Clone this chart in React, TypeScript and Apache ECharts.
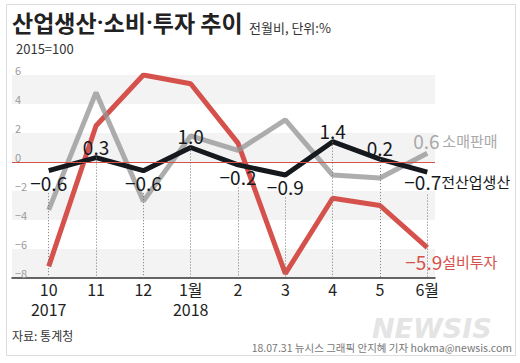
import React, { useEffect, useRef } from 'react';
import * as echarts from 'echarts';

const months = ['10', '11', '12', '1월', '2', '3', '4', '5', '6월'];
const years = ['2017', '', '', '2018', '', '', '', '', ''];
const industry = [-0.6, 0.3, -0.6, 1.0, -0.2, -0.9, 1.4, 0.2, -0.7];
const retail = [-3.3, 4.8, -2.7, 1.8, 0.8, 2.9, -0.9, -1.1, 0.6];
const investment = [-7.2, 2.5, 6.0, 5.4, 1.3, -7.7, -2.5, -3.0, -5.9];
const industryLabelPos = ['bottom', 'top', 'bottom', 'top', 'bottom', 'bottom', 'top', 'top', 'bottom'];
const yMin = -8;
const yMax = 6;
const yInterval = 2;

const FF = '"Noto Sans CJK KR", "Noto Sans", sans-serif';
const RED = '#d5524c';
const GRAY_TXT = '#a9a9a9';
const BLACK = '#15191d';

const fmt = (v: number) => (v < 0 ? '−' : '') + Math.abs(v).toFixed(1);

export default function App() {
  const ref = useRef<HTMLDivElement>(null);
  useEffect(() => {
    if (!ref.current) return;
    const chart = echarts.init(ref.current, undefined, { renderer: 'svg' });
    const last = months.length - 1;

    const dotted = industry.map((v, i) => {
      const start = industryLabelPos[i] === 'bottom' ? v - 1.55 : v;
      return [{ coord: [i, start] }, { coord: [i, yMin] }];
    });

    const hidden = { show: false };
    const sym = { symbol: 'circle', symbolSize: 0.01, showSymbol: true, showAllSymbol: true };
    const xMin = -0.776;
    const xMax = 8.163;

    const option: any = {
      animation: false,
      backgroundColor: '#fff',
      textStyle: { fontFamily: FF },
      grid: { left: 12, right: 85, top: 75, bottom: 85, containLabel: false },
      xAxis: [
        {
          type: 'value',
          min: xMin,
          max: xMax,
          axisLine: { show: true, onZero: false, lineStyle: { color: '#333', width: 1.5 } },
          axisTick: { show: false },
          splitLine: { show: false },
          axisLabel: {
            customValues: months.map((_, i) => i),
            formatter: (v: number) => months[Math.round(v)],
            color: '#222',
            fontSize: 16,
            lineHeight: 16,
            margin: 3,
            fontFamily: FF,
          },
        },
        {
          type: 'value',
          position: 'bottom',
          min: xMin,
          max: xMax,
          axisLine: { show: false, onZero: false },
          axisTick: { show: false },
          splitLine: { show: false },
          axisLabel: {
            customValues: years.map((y, i) => (y ? i : -1)).filter((i) => i >= 0),
            formatter: (v: number) => years[Math.round(v)],
            color: '#222',
            fontSize: 16,
            lineHeight: 16,
            margin: 23,
            fontFamily: FF,
          },
        },
      ],
      yAxis: {
        type: 'value',
        min: yMin,
        max: yMax,
        interval: yInterval,
        axisLine: { show: false, onZero: false },
        axisTick: { show: false },
        splitLine: { show: false },
        splitArea: { show: true, areaStyle: { color: ['#f3f3f3', 'rgba(255,255,255,0)'] } },
        axisLabel: {
          inside: true,
          margin: 3,
          color: '#9a9a9a',
          fontSize: 11,
          verticalAlign: 'bottom',
          fontFamily: FF,
          formatter: (v: number) => (v < 0 ? '−' + Math.abs(v) : String(v)),
        },
      },
      series: [
        {
          name: '설비투자',
          type: 'line',
          ...sym,
          data: investment.map((v, i) => ({
            value: [i, v],
            label:
              i === last
                ? {
                    show: true,
                    position: 'bottom',
                    align: 'left',
                    distance: 4,
                    offset: [-22, 0],
                    formatter: () => `{a|${fmt(v)}}{b|설비투자}`,
                    rich: {
                      a: { fontSize: 19, color: RED, fontFamily: FF },
                      b: { fontSize: 15, color: RED, fontFamily: FF },
                    },
                  }
                : hidden,
          })),
          lineStyle: { color: RED, width: 5 },
          itemStyle: { color: RED },
          markLine: {
            silent: true,
            symbol: ['none', 'none'],
            label: { show: false },
            animation: false,
            data: [
              { yAxis: 0, lineStyle: { color: RED, width: 1, type: 'solid' } },
              ...dotted.map((d) => [
                { ...d[0], lineStyle: { color: '#777', width: 1, type: [1, 2] } },
                d[1],
              ]),
            ],
          },
        },
        {
          name: '소매판매',
          type: 'line',
          ...sym,
          data: retail.map((v, i) => ({
            value: [i, v],
            label:
              i === last
                ? {
                    show: true,
                    position: 'top',
                    align: 'left',
                    distance: 3,
                    offset: [-14, 0],
                    formatter: () => `{a|${v.toFixed(1)}} {b|소매판매}`,
                    rich: {
                      a: { fontSize: 19, color: GRAY_TXT, fontFamily: FF },
                      b: { fontSize: 15, color: GRAY_TXT, fontFamily: FF },
                    },
                  }
                : hidden,
          })),
          lineStyle: { color: 'rgba(150,150,150,0.78)', width: 5 },
          itemStyle: { color: '#aaa' },
        },
        {
          name: '전산업생산',
          type: 'line',
          ...sym,
          data: industry.map((v, i) => ({
            value: [i, v],
            label:
              i === last
                ? {
                    show: true,
                    position: 'bottom',
                    align: 'left',
                    distance: 0,
                    offset: [-23, 0],
                    formatter: () => `{a|${fmt(v)}}{b|전산업생산}`,
                    rich: {
                      a: { fontSize: 19, color: BLACK, fontFamily: FF },
                      b: { fontSize: 15, color: BLACK, fontFamily: FF },
                    },
                  }
                : {
                    show: true,
                    position: industryLabelPos[i],
                    distance: 2,
                    formatter: () => fmt(v),
                    fontSize: 19,
                    color: BLACK,
                    fontFamily: FF,
                  },
          })),
          lineStyle: { color: BLACK, width: 5 },
          itemStyle: { color: BLACK },
        },
      ],
      graphic: [
        {
          type: 'rect',
          shape: { x: 6.5, y: 4.5, width: 509, height: 351 },
          style: { fill: 'none', stroke: '#dcdcdc', lineWidth: 1 },
          silent: true,
        },
        {
          type: 'text',
          x: 12,
          y: 22,
          style: {
            text: '산업생산{d|·}소비{d|·}투자 추이',
            fontSize: 23,
            fontWeight: 'bold',
            fontFamily: FF,
            fill: '#222',
            verticalAlign: 'middle',
            rich: {
              d: { fontSize: 23, fontWeight: 'bold', fontFamily: 'Roboto, sans-serif', fill: '#222' },
            },
          },
        },
        {
          type: 'text',
          x: 249,
          y: 27,
          style: {
            text: '전월비, 단위:%',
            fontSize: 13,
            fontFamily: FF,
            fill: '#333',
            verticalAlign: 'middle',
          },
        },
        {
          type: 'text',
          x: 16,
          y: 48,
          style: {
            text: '2015=100',
            fontSize: 13,
            fontFamily: FF,
            fill: '#333',
            verticalAlign: 'middle',
          },
        },
        {
          type: 'text',
          x: 12,
          y: 335,
          style: {
            text: '자료: 통계청',
            fontSize: 12,
            fontFamily: FF,
            fill: '#333',
            verticalAlign: 'middle',
          },
        },
        {
          type: 'text',
          x: 372,
          y: 328,
          style: {
            text: 'NEWSIS',
            fontSize: 27,
            lineHeight: 20,
            fontWeight: 'bold',
            fontStyle: 'italic',
            fontFamily: '"DejaVu Sans", sans-serif',
            fill: '#e4e4e4',
            verticalAlign: 'middle',
          },
        },
        {
          type: 'text',
          x: 512,
          y: 347,
          style: {
            text: '18.07.31 뉴시스 그래픽 안지혜 기자 hokma@newsis.com',
            fontSize: 10.5,
            fontFamily: FF,
            fill: '#777',
            align: 'right',
            verticalAlign: 'middle',
          },
        },
      ],
    };
    chart.setOption(option);
    return () => chart.dispose();
  }, []);

  return (
    <div
      ref={ref}
      style={{ position: 'fixed', left: 0, top: 0, width: 520, height: 363, background: '#fff' }}
    />
  );
}
